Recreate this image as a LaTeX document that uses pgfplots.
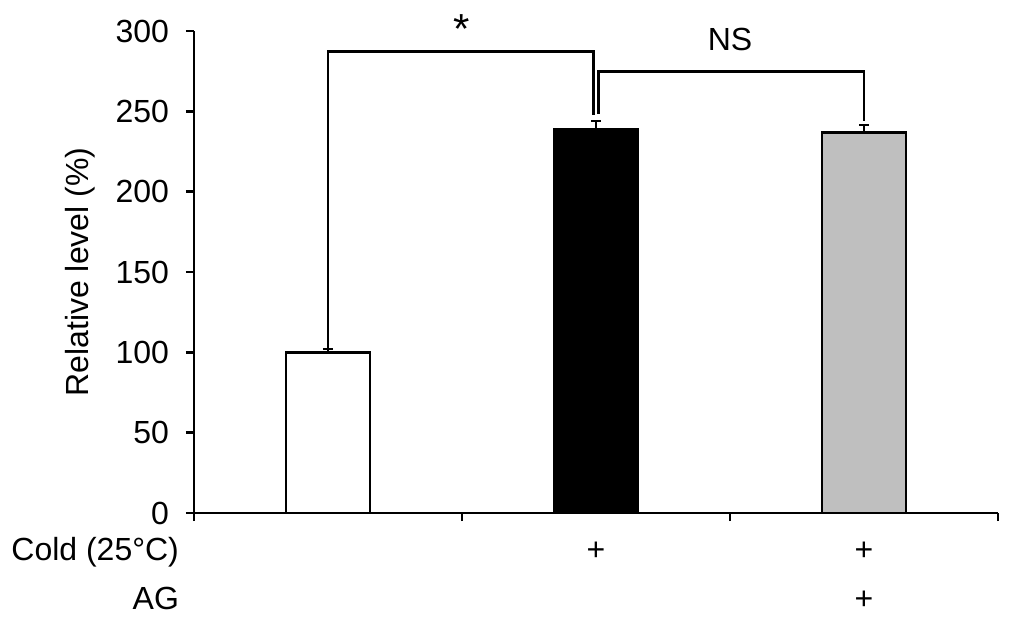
\documentclass[border=0pt]{standalone}
\usepackage{pgfplots}
\pgfplotsset{compat=1.18}
\usepackage{fontspec}
\setmainfont{Liberation Sans}
\begin{document}
\begin{tikzpicture}[font=\fontsize{16bp}{19bp}\selectfont]
\begin{axis}[
  name=ax,
  scale only axis,
  width=402bp, height=241bp,
  xmin=-0.5, xmax=2.5, ymin=0, ymax=300,
  axis x line=bottom, axis y line=left,
  axis line style={-, line width=1.3bp},
  tick style={line width=1.3bp, black},
  tick align=outside,
  major tick length=4bp,
  xtick={-0.5,0.5,1.5,2.5}, xticklabels={},
  ytick={0,50,...,300},
  /pgf/number format/assume math mode=true,
  yticklabel style={font=\fontsize{16bp}{19bp}\selectfont, xshift=-5bp},
  ylabel={Relative level (\%)},
  ylabel style={at={(axis description cs:0,0.5)}, anchor=center, yshift=57bp},
  clip=false,
]
\addplot[ybar, bar width=42bp, bar shift=0pt, fill=white, draw=black, line width=1.4bp,
  error bars/.cd, y dir=plus, y explicit,
  error bar style={line width=0.7bp, black},
  error mark options={rotate=90, mark size=2.5bp, line width=0.7bp}]
  coordinates {(0,100) +- (0,2)};
\addplot[ybar, bar width=42bp, bar shift=0pt, fill=black, draw=black, line width=1.4bp,
  error bars/.cd, y dir=plus, y explicit,
  error bar style={line width=0.7bp, black},
  error mark options={rotate=90, mark size=2.5bp, line width=0.7bp}]
  coordinates {(1,239) +- (0,5)};
\addplot[ybar, bar width=42bp, bar shift=0pt, fill=black!25, draw=black, line width=1.4bp,
  error bars/.cd, y dir=plus, y explicit,
  error bar style={line width=0.7bp, black},
  error mark options={rotate=90, mark size=2.5bp, line width=0.7bp}]
  coordinates {(2,237) +- (0,4.6)};
% significance brackets
\draw[line width=1.4bp] (axis cs:0,103) |- (axis cs:0.99,287) -- (axis cs:0.99,248);
\draw[line width=1.4bp] (axis cs:1.01,248.5) |- (axis cs:2,275) -- (axis cs:2,244);
\node[anchor=center, font=\fontsize{21bp}{24bp}\selectfont] at (axis cs:0.5,301) {*};
\node[anchor=center] at (axis cs:1.5,294.5) {NS};
% condition rows
\node[anchor=base east] at (axis cs:-0.53,-29.6) {Cold (25°C)};
\node[anchor=base east] at (axis cs:-0.53,-60) {AG};
\node[anchor=base] at (axis cs:1,-29.6) {+};
\node[anchor=base] at (axis cs:2,-29.6) {+};
\node[anchor=base] at (axis cs:2,-60) {+};
\end{axis}
\path ([shift={(-97bp,-54.5bp)}]ax.south west) rectangle ([shift={(409.5bp,256.5bp)}]ax.south west);
\end{tikzpicture}
\end{document}
